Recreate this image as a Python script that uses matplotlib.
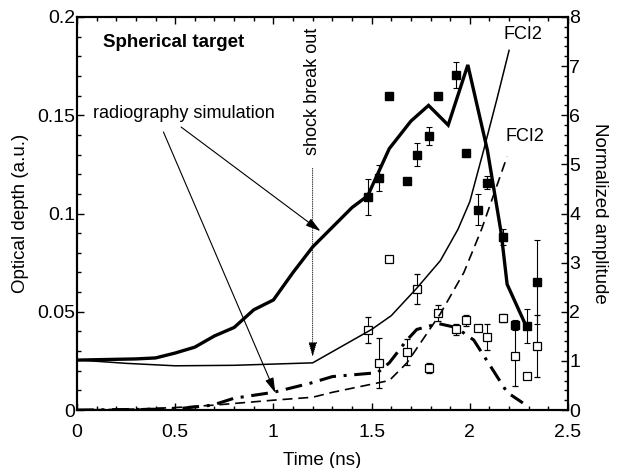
import numpy as np
import matplotlib
matplotlib.use('Agg')
import matplotlib.pyplot as plt
from matplotlib.ticker import MultipleLocator, FixedLocator

plt.rcParams['font.family'] = ['Liberation Sans', 'DejaVu Sans']
plt.rcParams['font.size'] = 13

# radiography simulation, thick solid (optical depth)
rad_x = [0, 0.3, 0.4, 0.5, 0.6, 0.7, 0.8, 0.9, 1.0, 1.1, 1.2, 1.3, 1.4, 1.48, 1.59, 1.7,
         1.79, 1.89, 1.99, 2.09, 2.16, 2.19, 2.29]
rad_y = [0.0254, 0.026, 0.0265, 0.029, 0.032, 0.0377, 0.042, 0.051, 0.056, 0.070, 0.083,
         0.093, 0.103, 0.109, 0.133, 0.147, 0.155, 0.145, 0.1756, 0.132, 0.090, 0.064, 0.042]

# radiography simulation, dash-dot (optical depth)
rad2_x = [0, 0.5, 0.69, 0.8, 1.0, 1.19, 1.3, 1.53, 1.59, 1.68, 1.73, 1.84, 1.93, 2.02,
          2.12, 2.19, 2.27]
rad2_y = [0, 0.0005, 0.0025, 0.006, 0.009, 0.0137, 0.017, 0.019, 0.024, 0.0356, 0.041,
          0.044, 0.042, 0.0356, 0.020, 0.009, 0.0036]

# FCI2, thin solid (normalized amplitude)
fci_x = [0, 0.25, 0.5, 0.8, 1.2, 1.5, 1.6, 1.73, 1.85, 1.94, 2.0, 2.07, 2.14, 2.2]
fci_y = [1.02, 0.95, 0.90, 0.91, 0.96, 1.64, 1.92, 2.48, 3.04, 3.68, 4.24, 5.28, 6.36, 7.32]

# FCI2, dashed (normalized amplitude)
fci2_x = [0, 0.3, 0.5, 0.7, 1.0, 1.2, 1.3, 1.59, 1.68, 1.85, 1.97, 2.06, 2.19]
fci2_y = [0, 0.02, 0.05, 0.10, 0.20, 0.26, 0.36, 0.60, 0.96, 1.96, 2.80, 3.68, 5.16]

# measurements
full_x = [1.48, 1.54, 1.59, 1.68, 1.73, 1.79, 1.84, 1.93, 1.98, 2.04, 2.09, 2.17, 2.23, 2.29, 2.34]
full_y = [0.1084, 0.118, 0.160, 0.1166, 0.130, 0.1396, 0.160, 0.1705, 0.131, 0.102, 0.1157,
          0.088, 0.0433, 0.0428, 0.065]
full_err = [0.009, 0.0068, 0.001, 0, 0.0057, 0.0046, 0, 0.0068, 0, 0.0079, 0.0034,
            0.004, 0.0027, 0.0087, 0.0214]

open_x = [1.48, 1.54, 1.59, 1.68, 1.73, 1.79, 1.84, 1.93, 1.98, 2.04, 2.09, 2.17, 2.23, 2.29, 2.34]
open_y = [0.0407, 0.0239, 0.0768, 0.0295, 0.0616, 0.0214, 0.0494, 0.0412, 0.0458, 0.0417,
          0.0372, 0.0468, 0.0275, 0.0173, 0.0326]
open_err = [0.0065, 0.0125, 0, 0.0064, 0.0075, 0.0025, 0.004, 0.0028, 0.0028, 0, 0.0066,
            0.002, 0.0155, 0, 0.016]

x_ticks = [0, 0.5, 1, 1.5, 2, 2.5]
x_labels = ['0', '0.5', '1', '1.5', '2', '2.5']
y_ticks = [0, 0.05, 0.1, 0.15, 0.2]
y_labels = ['0', '0.05', '0.1', '0.15', '0.2']

fig = plt.figure(figsize=(6.19, 4.68), dpi=100)
ax = fig.add_axes([0.1244, 0.1239, 0.7932, 0.8398])
ax2 = ax.twinx()

ax.plot(rad_x, rad_y, color='black', lw=2.4, solid_joinstyle='miter')
ax.plot(rad2_x, rad2_y, color='black', lw=2.2, dashes=(5.5, 2.5, 1, 2.5))
ax2.plot(fci_x, fci_y, color='black', lw=1.1)
ax2.plot(fci2_x, fci2_y, color='black', lw=1.2, dashes=(6, 3.5))

ax.errorbar(full_x, full_y, yerr=full_err, fmt='s', color='black', ms=6, mfc='black',
            mec='black', ecolor='black', elinewidth=0.8, capsize=2, capthick=0.8, zorder=4)
ax.errorbar(open_x, open_y, yerr=open_err, fmt='s', color='black', ms=6, mfc='white',
            mec='black', mew=0.9, ecolor='black', elinewidth=0.8, capsize=2, capthick=0.8,
            zorder=5)

ax.set_xlim(0, 2.5)
ax.set_ylim(0, 0.2)
ax2.set_ylim(0, 8)

ax.xaxis.set_major_locator(FixedLocator(x_ticks))
ax.xaxis.set_minor_locator(MultipleLocator(0.1))
ax.yaxis.set_major_locator(FixedLocator(y_ticks))
ax.yaxis.set_minor_locator(MultipleLocator(0.01))
ax.set_xticklabels(x_labels)
ax.set_yticklabels(y_labels)
ax2.yaxis.set_major_locator(MultipleLocator(1))
ax2.yaxis.set_minor_locator(MultipleLocator(0.2))

ax.tick_params(which='both', direction='in', top=True, right=False, width=1)
ax.tick_params(which='major', length=5, labelsize=14)
ax.tick_params(which='minor', length=3)
ax.tick_params(axis='x', which='major', pad=10)
ax.tick_params(axis='y', which='major', pad=1)
ax2.tick_params(which='both', direction='in', width=1)
ax2.tick_params(which='major', length=5, labelsize=14, pad=1)
ax2.tick_params(which='minor', length=3)
for a in (ax, ax2):
    for s in a.spines.values():
        s.set_linewidth(1.5)

ax.set_xlabel('Time (ns)', fontsize=13.5, labelpad=8)
ax.set_ylabel('Optical depth (a.u.)', fontsize=13.5, labelpad=6)
ax2.set_ylabel('Normalized amplitude', fontsize=13.5, rotation=270, labelpad=20)

ax.text(0.13, 0.187, 'Spherical target', fontsize=13.5, fontweight='bold', va='center')
ax.text(0.08, 0.151, 'radiography simulation', fontsize=13, va='center')
ax.text(1.2, 0.162, 'shock break out', fontsize=13, rotation=90, ha='center', va='center')
ax.text(2.37, 0.191, 'FCI2', fontsize=13, ha='right', va='center')
ax.text(2.38, 0.139, 'FCI2', fontsize=13, ha='right', va='center')

arrow = dict(arrowstyle='-|>,head_length=0.7,head_width=0.2', color='black', lw=0.8,
             shrinkA=0, shrinkB=0)
ax.annotate('', xy=(1.24, 0.091), xytext=(0.53, 0.144), arrowprops=arrow)
ax.annotate('', xy=(1.01, 0.0087), xytext=(0.44, 0.1415), arrowprops=arrow)
ax.annotate('', xy=(1.2, 0.027), xytext=(1.2, 0.123),
            arrowprops=dict(arrowstyle='-|>,head_length=0.7,head_width=0.2', color='black',
                            lw=0.6, ls=':', shrinkA=0, shrinkB=0))

fig.savefig('out.png', dpi=100)
